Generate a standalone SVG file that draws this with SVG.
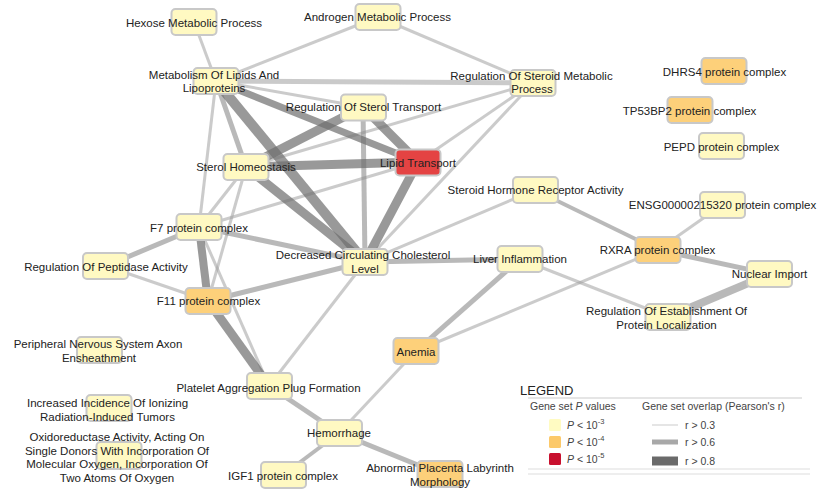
<svg xmlns="http://www.w3.org/2000/svg" width="819" height="491" viewBox="0 0 819 491">
<style>
.e1{stroke:#a0a0a0;stroke-opacity:.55;stroke-width:3;fill:none}
.e2{stroke:#8a8a8a;stroke-opacity:.6;stroke-width:5;fill:none}
.e3{stroke:#6e6e6e;stroke-opacity:.7;stroke-width:9;fill:none}
.n rect{stroke:#c8c8c8;stroke-width:2}
.y rect{fill:#fff9c2}
.o rect{fill:#fdd07a}
.r rect{fill:#e44343}
text{font-family:"Liberation Sans",Arial,sans-serif;font-size:11.5px;fill:#222;text-anchor:middle}
.lg text{font-size:10.5px;fill:#444;text-anchor:start}
</style>
<rect width="819" height="491" fill="#fff"/>
<g id="connectors">
<line class="e1" x1="194" y1="22" x2="216" y2="81"/>
<line class="e1" x1="378" y1="17" x2="216" y2="81"/>
<line class="e1" x1="378" y1="17" x2="533" y2="83"/>
<line class="e2" x1="216" y1="81" x2="533" y2="83" style="stroke-opacity:.45"/>
<line class="e1" x1="216" y1="81" x2="363" y2="107"/>
<line class="e1" x1="246" y1="167" x2="533" y2="83"/>
<line class="e1" x1="533" y1="83" x2="418" y2="162"/>
<line class="e1" x1="533" y1="83" x2="365" y2="262"/>
<line class="e1" x1="418" y1="162" x2="199" y2="227"/>
<line class="e1" x1="216" y1="81" x2="199" y2="227"/>
<line class="e1" x1="246" y1="167" x2="199" y2="227"/>
<line class="e1" x1="246" y1="167" x2="208" y2="301"/>
<line class="e1" x1="199" y1="227" x2="269" y2="386"/>
<line class="e1" x1="208" y1="301" x2="106" y2="266"/>
<line class="e1" x1="365" y1="262" x2="535" y2="190"/>
<line class="e1" x1="365" y1="262" x2="269" y2="386"/>
<line class="e1" x1="520" y1="259" x2="668" y2="317"/>
<line class="e1" x1="416" y1="351" x2="658" y2="250"/>
<line class="e1" x1="722" y1="205" x2="658" y2="250"/>
<line class="e1" x1="416" y1="351" x2="339" y2="433"/>
<line class="e2" x1="339" y1="433" x2="283" y2="475" style="stroke-width:4"/>
<line class="e2" x1="535" y1="190" x2="658" y2="250" style="stroke-width:4"/>
<line class="e2" x1="216" y1="81" x2="246" y2="167"/>
<line class="e2" x1="363" y1="107" x2="365" y2="262"/>
<line class="e2" x1="199" y1="227" x2="106" y2="266"/>
<line class="e2" x1="199" y1="227" x2="365" y2="262"/>
<line class="e2" x1="208" y1="301" x2="365" y2="262"/>
<line class="e2" x1="365" y1="262" x2="520" y2="259"/>
<line class="e2" x1="520" y1="259" x2="416" y2="351"/>
<line class="e2" x1="658" y1="250" x2="770" y2="274"/>
<line class="e2" x1="269" y1="386" x2="339" y2="433"/>
<line class="e2" x1="339" y1="433" x2="440" y2="474"/>
<line class="e2" x1="770" y1="274" x2="668" y2="317" style="stroke-width:8"/>
<line class="e3" x1="216" y1="81" x2="418" y2="162" style="stroke-width:7"/>
<line class="e3" x1="216" y1="81" x2="365" y2="262" style="stroke-width:10"/>
<line class="e3" x1="363" y1="107" x2="246" y2="167"/>
<line class="e3" x1="363" y1="107" x2="418" y2="162"/>
<line class="e3" x1="246" y1="167" x2="418" y2="162"/>
<line class="e3" x1="418" y1="162" x2="365" y2="262"/>
<line class="e3" x1="246" y1="167" x2="365" y2="262"/>
<line class="e3" x1="199" y1="227" x2="208" y2="301" style="stroke-width:8"/>
<line class="e3" x1="208" y1="301" x2="269" y2="386"/>
</g>
<g id="n-hexose" class="n y"><rect x="171.5" y="9" width="45" height="26" rx="4"/><text x="194" y="27">Hexose Metabolic Process</text></g>
<g id="n-androgen" class="n y"><rect x="355.5" y="4" width="45" height="26" rx="4"/><text x="377.5" y="21">Androgen Metabolic Process</text></g>
<g id="n-metabolism" class="n y"><rect x="193.5" y="68" width="45" height="26" rx="4"/><text x="214" y="79">Metabolism Of Lipids And</text><text x="214" y="92">Lipoproteins</text></g>
<g id="n-regsteroid" class="n y"><rect x="510.5" y="70" width="45" height="26" rx="4"/><text x="531.5" y="80">Regulation Of Steroid Metabolic</text><text x="532" y="93">Process</text></g>
<g id="n-steroltransport" class="n y"><rect x="341" y="94.5" width="45" height="26" rx="4"/><text x="363.5" y="111">Regulation Of Sterol Transport</text></g>
<g id="n-lipid" class="n r"><rect x="395.5" y="149.5" width="45" height="26" rx="4"/><text x="418" y="167">Lipid Transport</text></g>
<g id="n-sterolhomeo" class="n y"><rect x="223.5" y="154" width="45" height="26" rx="4"/><text x="246" y="171">Sterol Homeostasis</text></g>
<g id="n-steroidhormone" class="n y"><rect x="513" y="177" width="45" height="26" rx="4"/><text x="535.5" y="194">Steroid Hormone Receptor Activity</text></g>
<g id="n-dhrs4" class="n o"><rect x="701.5" y="58" width="45" height="26" rx="4"/><text x="724.5" y="76">DHRS4 protein complex</text></g>
<g id="n-tp53bp2" class="n o"><rect x="667.5" y="97" width="45" height="26" rx="4"/><text x="689.5" y="115">TP53BP2 protein complex</text></g>
<g id="n-pepd" class="n y"><rect x="699" y="133" width="45" height="26" rx="4"/><text x="721.5" y="151">PEPD protein complex</text></g>
<g id="n-ensg" class="n y"><rect x="700" y="192" width="45" height="26" rx="4"/><text x="722.5" y="209">ENSG00000215320 protein complex</text></g>
<g id="n-rxra" class="n o"><rect x="635.5" y="237" width="45" height="26" rx="4"/><text x="657.5" y="254">RXRA protein complex</text></g>
<g id="n-nuclear" class="n y"><rect x="747" y="261" width="45" height="26" rx="4"/><text x="769.5" y="278">Nuclear Import</text></g>
<g id="n-regestab" class="n y"><rect x="645.5" y="304" width="45" height="26" rx="4"/><text x="666.5" y="315">Regulation Of Establishment Of</text><text x="666.5" y="329">Protein Localization</text></g>
<g id="n-liver" class="n y"><rect x="497.5" y="246" width="45" height="26" rx="4"/><text x="520" y="263">Liver Inflammation</text></g>
<g id="n-decreased" class="n y"><rect x="342.5" y="249" width="45" height="26" rx="4"/><text x="363" y="259">Decreased Circulating Cholesterol</text><text x="365" y="273">Level</text></g>
<g id="n-anemia" class="n o"><rect x="393.5" y="338" width="45" height="26" rx="4"/><text x="416" y="356">Anemia</text></g>
<g id="n-f7" class="n y"><rect x="176.5" y="214" width="45" height="26" rx="4"/><text x="199" y="232">F7 protein complex</text></g>
<g id="n-regpeptidase" class="n y"><rect x="83" y="253" width="45" height="26" rx="4"/><text x="106" y="271">Regulation Of Peptidase Activity</text></g>
<g id="n-f11" class="n o"><rect x="185.5" y="288" width="45" height="26" rx="4"/><text x="208.5" y="305">F11 protein complex</text></g>
<g id="n-peripheral" class="n y"><rect x="77" y="337" width="45" height="26" rx="4"/><text x="98" y="348">Peripheral Nervous System Axon</text><text x="99" y="362">Ensheathment</text></g>
<g id="n-platelet" class="n y"><rect x="247" y="373" width="45" height="26" rx="4"/><text x="268.5" y="392">Platelet Aggregation Plug Formation</text></g>
<g id="n-increased" class="n y"><rect x="86.5" y="395" width="45" height="26" rx="4"/><text x="107.5" y="407">Increased Incidence Of Ionizing</text><text x="107.5" y="421">Radiation-Induced Tumors</text></g>
<g id="n-oxido" class="n y"><rect x="96.5" y="442" width="45" height="27" rx="4"/><text x="117" y="441">Oxidoreductase Activity, Acting On</text><text x="117" y="455">Single Donors With Incorporation Of</text><text x="117" y="468">Molecular Oxygen, Incorporation Of</text><text x="117" y="482">Two Atoms Of Oxygen</text></g>
<g id="n-hemorrhage" class="n y"><rect x="317" y="420" width="45" height="26" rx="4"/><text x="339" y="437">Hemorrhage</text></g>
<g id="n-igf1" class="n y"><rect x="261" y="462" width="45" height="26" rx="4"/><text x="283" y="480">IGF1 protein complex</text></g>
<g id="n-placenta" class="n o"><rect x="417.5" y="461" width="45" height="26" rx="4"/><text x="440" y="472">Abnormal Placenta Labyrinth</text><text x="440" y="486">Morphology</text></g>
<g id="legend" class="lg">
<text x="520" y="395" style="font-size:13px;fill:#222">LEGEND</text>
<line x1="528" y1="398" x2="802" y2="398" stroke="#ddd" stroke-width="1.5"/>
<text x="530" y="410">Gene set <tspan font-style="italic">P</tspan> values</text>
<text x="642" y="410">Gene set overlap (Pearson's r)</text>
<rect x="549" y="419" width="12" height="12" rx="1.5" fill="#fffbc2"/>
<rect x="549" y="436" width="12" height="12" rx="1.5" fill="#fcc96a"/>
<rect x="549" y="453" width="12" height="12" rx="1.5" fill="#c8102e"/>
<text x="567" y="429"><tspan font-style="italic">P</tspan> &lt; 10<tspan dy="-5" font-size="7.5">-3</tspan></text>
<text x="567" y="446"><tspan font-style="italic">P</tspan> &lt; 10<tspan dy="-5" font-size="7.5">-4</tspan></text>
<text x="567" y="463"><tspan font-style="italic">P</tspan> &lt; 10<tspan dy="-5" font-size="7.5">-5</tspan></text>
<line x1="652" y1="425" x2="678" y2="425" stroke="#ddd" stroke-width="1.5"/>
<line x1="652" y1="442" x2="678" y2="442" stroke="#a8a8a8" stroke-width="5"/>
<line x1="652" y1="461" x2="678" y2="461" stroke="#6a6a6a" stroke-width="9"/>
<text x="685" y="429">r &gt; 0.3</text>
<text x="685" y="446">r &gt; 0.6</text>
<text x="685" y="465">r &gt; 0.8</text>
<line x1="528" y1="469" x2="810" y2="469" stroke="#ddd" stroke-width="1.2"/>
<line x1="528" y1="474" x2="810" y2="474" stroke="#ddd" stroke-width="1.2"/>
</g>
</svg>
